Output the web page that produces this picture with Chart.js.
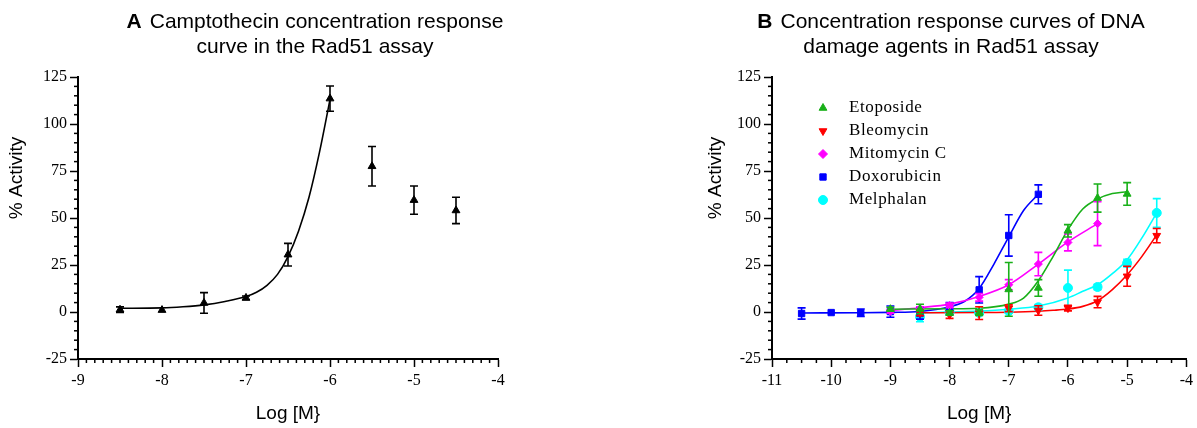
<!DOCTYPE html>
<html>
<head>
<meta charset="utf-8">
<script src="https://cdn.jsdelivr.net/npm/chart.js@4.4.1/dist/chart.umd.min.js"></script>
<style>
  html, body { margin: 0; padding: 0; background: #fff; }
  body { width: 1197px; height: 428px; position: relative; overflow: hidden; }
  .panel { position: absolute; top: 0; height: 428px; }
  #panelA { left: 0; width: 630px; }
  #panelB { left: 705px; width: 492px; }
</style>
</head>
<body>
<div class="panel" id="panelA"><canvas id="chartA"></canvas></div>
<div class="panel" id="panelB"><canvas id="chartB"></canvas></div>
<script>
// ---- panel A : camptothecin ----
const campDose = [-8.5, -8, -7.5, -7, -6.5, -6, -5.5, -5, -4.5];
const campAct = [1.2, 1.0, 4.8, 7.5, 30.5, 113.5, 77.5, 59.5, 54];
const campSem = [1.5, 0, 5.5, 1.0, 6, 6.7, 10.5, 7.5, 7];
const campFitDose = [-8.5, -8, -7.75, -7.5, -7.25, -7, -6.875, -6.75, -6.625, -6.5, -6.375, -6.25, -6.125, -6];
const campFitAct = [2.0, 2.2, 2.8, 3.8, 5.6, 8.2, 10.5, 14.2, 20, 29.5, 43, 61, 85, 113];

// ---- panel B : DNA damage agents ----
const etoDose = [-9, -8.5, -8, -7.5, -7, -6.5, -6, -5.5, -5];
const etoAct = [1.5, 1.6, -0.5, -0.3, 12, 12.8, 43.2, 60.6, 62.8];
const etoSem = [1, 2.5, 1.2, 1.5, 14.3, 4.4, 3.3, 7.5, 6];
const etoFitDose = [-9, -8, -7.5, -7, -6.75, -6.5, -6.25, -6, -5.75, -5.5, -5.25, -5];
const etoFitAct = [1.5, 1.7, 2.0, 4.2, 7.4, 16.6, 29.6, 43.8, 54.8, 60.1, 63.0, 64.0];

const bleoDose = [-8.5, -8, -7.5, -7, -6.5, -6, -5.5, -5, -4.5];
const bleoAct = [-0.5, -1.4, -0.6, 2.0, 0.8, 2.1, 5.3, 19, 40.6];
const bleoSem = [1.5, 2, 3.4, 1.8, 2.5, 1.5, 3, 5.3, 3.8];
const bleoFitDose = [-8.5, -7.5, -7, -6.5, -6.25, -6, -5.75, -5.5, -5.25, -5, -4.75, -4.5];
const bleoFitAct = [-0.4, -0.3, -0.1, 0.4, 0.9, 1.6, 3.0, 6.0, 11.9, 19.8, 29.6, 41];

const mitoDose = [-9, -8.5, -8, -7.5, -7, -6.5, -6, -5.5];
const mitoAct = [0.3, 1.8, 3.5, 7.8, 14.5, 25.5, 37, 47];
const mitoSem = [1, 1, 1.2, 2, 2.7, 6.2, 4.5, 11.7];
const mitoFitDose = [-9, -8.5, -8, -7.5, -7, -6.5, -6, -5.5];
const mitoFitAct = [0.8, 2.3, 4.2, 8.3, 14.5, 25.5, 37.3, 47];

const doxDose = [-10.5, -10, -9.5, -9, -8.5, -8, -7.5, -7, -6.5];
const doxAct = [-0.8, -0.3, -0.4, 0.2, -0.8, 3.0, 11.8, 40.7, 62.6];
const doxSem = [3, 0, 2, 3, 3, 2, 7, 11, 5];
const doxFitDose = [-10.5, -9.5, -9, -8.5, -8, -7.75, -7.5, -7.25, -7, -6.75, -6.5];
const doxFitAct = [-0.5, -0.4, -0.2, 0.3, 2.8, 5.6, 12.5, 25.5, 40, 54, 62.7];

const melDose = [-8.5, -8, -7.5, -7, -6.5, -6, -5.5, -5, -4.5];
const melAct = [-2.5, 0, -0.5, 0.5, 2.5, 12.8, 13.3, 26, 52.7];
const melSem = [2.7, 1, 1, 1, 1.5, 9.5, 1.5, 2, 7.6];
const melFitDose = [-8.5, -8, -7.5, -7, -6.5, -6, -5.75, -5.5, -5.25, -5, -4.75, -4.5];
const melFitAct = [-0.5, 0, 0.5, 1.5, 3.2, 7.5, 11, 14.5, 20.4, 27.8, 39.4, 52.7];

const pts = (xs, ys) => xs.map((x, i) => ({ x: x, y: ys[i] }));

// use the narrow sans for titles when it is installed
const probe = document.createElement('canvas').getContext('2d');
probe.font = '40px "Liberation Sans Narrow", monospace';
const wNarrow = probe.measureText('Camptothecin').width;
probe.font = '40px monospace';
const hasNarrow = Math.abs(wNarrow - probe.measureText('Camptothecin').width) > 1;
const titleFont = hasNarrow
  ? { bold: '700 24px "Liberation Sans Narrow"', reg: '24px "Liberation Sans Narrow"', axis: '22px "Liberation Sans Narrow"', spacing: '1px', axisSpacing: '0.5px' }
  : { bold: '700 21px "Liberation Sans", Arial', reg: '21px "Liberation Sans", Arial', axis: '19px "Liberation Sans", Arial', spacing: '0px', axisSpacing: '0px' };

// error bars, drawn right after each dataset
const errorBars = {
  id: 'errorBars',
  afterDatasetDraw(chart, args) {
    const ds = chart.data.datasets[args.index];
    if (!ds.errors) return;
    const y = chart.scales.y;
    const ctx = chart.ctx;
    ctx.save();
    ctx.strokeStyle = ds.borderColor;
    ctx.lineWidth = 1.6;
    args.meta.data.forEach((pt, i) => {
      const e = ds.errors[i];
      if (!e) return;
      const v = ds.data[i].y;
      const top = y.getPixelForValue(v + e);
      const bot = y.getPixelForValue(v - e);
      ctx.beginPath();
      ctx.moveTo(pt.x, top); ctx.lineTo(pt.x, bot);
      ctx.moveTo(pt.x - 4, top); ctx.lineTo(pt.x + 4, top);
      ctx.moveTo(pt.x - 4, bot); ctx.lineTo(pt.x + 4, bot);
      ctx.stroke();
    });
    ctx.restore();
  }
};

// short minor ticks between the labelled ones
const minorTicks = {
  id: 'minorTicks',
  afterDraw(chart, args, opts) {
    const ctx = chart.ctx, area = chart.chartArea;
    ctx.save();
    ctx.strokeStyle = '#000';
    ctx.lineWidth = 1.5;
    ['x', 'y'].forEach(id => {
      const s = chart.scales[id];
      const step = opts[id], major = s.options.ticks.stepSize;
      const n = Math.round((s.max - s.min) / step);
      for (let k = 0; k <= n; k++) {
        const v = s.min + k * step;
        if (Math.abs(v / major - Math.round(v / major)) < 1e-6) continue;
        const p = s.getPixelForValue(v);
        ctx.beginPath();
        if (id === 'x') { ctx.moveTo(p, area.bottom); ctx.lineTo(p, area.bottom + 4); }
        else { ctx.moveTo(area.left - 4, p); ctx.lineTo(area.left, p); }
        ctx.stroke();
      }
    });
    ctx.restore();
  }
};

// panel title with bold letter + axis titles
const panelText = {
  id: 'panelText',
  afterDraw(chart, args, o) {
    const ctx = chart.ctx, area = chart.chartArea, cx = chart.width / 2;
    ctx.save();
    ctx.fillStyle = '#000';
    ctx.textBaseline = 'middle';
    ctx.letterSpacing = titleFont.spacing;
    ctx.font = titleFont.bold;
    const wA = ctx.measureText(o.letter).width + 8;
    ctx.font = titleFont.reg;
    const w1 = ctx.measureText(o.title[0]).width;
    const x0 = cx - (wA + w1) / 2;
    ctx.textAlign = 'left';
    ctx.font = titleFont.bold;
    ctx.fillText(o.letter, x0, 22);
    ctx.font = titleFont.reg;
    ctx.fillText(o.title[0], x0 + wA, 22);
    ctx.textAlign = 'center';
    ctx.fillText(o.title[1], cx, 47);
    ctx.letterSpacing = titleFont.axisSpacing;
    ctx.font = titleFont.axis;
    ctx.fillText(o.xLabel, (area.left + area.right) / 2, 414);
    ctx.translate(o.yLabelX, 178);
    ctx.rotate(-Math.PI / 2);
    ctx.fillText(o.yLabel, 0, 0);
    ctx.restore();
  }
};

// legend placed inside the plot area
const innerLegend = {
  id: 'innerLegend',
  afterDraw(chart, args, o) {
    if (!o.show) return;
    const ctx = chart.ctx, area = chart.chartArea;
    ctx.save();
    ctx.font = '17px "Liberation Serif", "Times New Roman", serif';
    ctx.letterSpacing = '0.6px';
    ctx.textBaseline = 'middle';
    ctx.textAlign = 'left';
    chart.data.datasets.filter(d => d.legendRow !== undefined).forEach(d => {
      const x = area.left + o.left;
      const y = area.top + o.top + d.legendRow * o.rowGap;
      ctx.fillStyle = d.backgroundColor;
      ctx.strokeStyle = d.borderColor;
      ctx.lineWidth = 1;
      Chart.helpers.drawPoint(ctx, { pointStyle: d.pointStyle, rotation: d.rotation || 0, radius: 4.5, borderWidth: 1 }, x, y);
      ctx.fillStyle = '#000';
      ctx.fillText(d.label, x + 26, y);
    });
    ctx.restore();
  }
};

Chart.defaults.font.family = '"Liberation Serif", "Times New Roman", serif';
Chart.defaults.font.size = 16;
Chart.defaults.color = '#000';

function axes(xmin, xmax, yWidth) {
  const grid = { drawOnChartArea: false, drawTicks: true, tickLength: 8, tickColor: '#000', tickWidth: 1.5 };
  const border = { display: true, color: '#000', width: 2 };
  return {
    x: {
      type: 'linear', min: xmin, max: xmax,
      ticks: { stepSize: 1, padding: 4, maxRotation: 0, autoSkip: false },
      grid: grid, border: border,
      afterFit: s => { s.height = 30; }
    },
    y: {
      type: 'linear', min: -25, max: 125,
      ticks: { stepSize: 25, padding: 3 },
      grid: grid, border: border,
      afterFit: s => { s.width = yWidth; }
    }
  };
}

function curve(label, xs, ys, color) {
  return {
    label: label, data: pts(xs, ys), showLine: true, borderColor: color, borderWidth: 1.6,
    pointRadius: 0, cubicInterpolationMode: 'monotone', order: 2
  };
}

function points(label, xs, ys, errs, color, style, radius, row, rotation) {
  return {
    label: label, data: pts(xs, ys), errors: errs, showLine: false,
    backgroundColor: color, borderColor: color, borderWidth: 1,
    pointStyle: style, pointRadius: radius, rotation: rotation || 0, legendRow: row, order: 1
  };
}

new Chart(document.getElementById('chartA'), {
  type: 'scatter',
  data: {
    datasets: [
      curve('Camptothecin fit', campFitDose, campFitAct, '#000'),
      points('Camptothecin', campDose, campAct, campSem, '#000', 'triangle', 4.5)
    ]
  },
  options: {
    responsive: true, maintainAspectRatio: false, animation: false,
    layout: { padding: { top: 77, right: 132, bottom: 39, left: 0 } },
    scales: axes(-9, -4, 78),
    plugins: {
      legend: { display: false }, tooltip: { enabled: false },
      minorTicks: { x: 0.1, y: 5 },
      innerLegend: { show: false },
      panelText: {
        letter: 'A', title: ['Camptothecin concentration response', 'curve in the Rad51 assay'],
        xLabel: 'Log [M}', yLabel: '% Activity', yLabelX: 17
      }
    }
  },
  plugins: [errorBars, minorTicks, panelText, innerLegend]
});

new Chart(document.getElementById('chartB'), {
  type: 'scatter',
  data: {
    datasets: [
      curve('Etoposide fit', etoFitDose, etoFitAct, '#19b019'),
      curve('Bleomycin fit', bleoFitDose, bleoFitAct, '#ff0000'),
      curve('Mitomycin C fit', mitoFitDose, mitoFitAct, '#ff00ff'),
      curve('Doxorubicin fit', doxFitDose, doxFitAct, '#0000ff'),
      curve('Melphalan fit', melFitDose, melFitAct, '#00ffff'),
      points('Etoposide', etoDose, etoAct, etoSem, '#19b019', 'triangle', 4.5, 0),
      points('Bleomycin', bleoDose, bleoAct, bleoSem, '#ff0000', 'triangle', 4.5, 1, 180),
      points('Mitomycin C', mitoDose, mitoAct, mitoSem, '#ff00ff', 'rectRot', 4, 2),
      points('Doxorubicin', doxDose, doxAct, doxSem, '#0000ff', 'rect', 4.5, 3),
      points('Melphalan', melDose, melAct, melSem, '#00ffff', 'circle', 4.5, 4)
    ]
  },
  options: {
    responsive: true, maintainAspectRatio: false, animation: false,
    layout: { padding: { top: 77, right: 5, bottom: 39, left: 0 } },
    scales: axes(-11, -4, 67),
    plugins: {
      legend: { display: false }, tooltip: { enabled: false },
      minorTicks: { x: 0.25, y: 5 },
      innerLegend: { show: true, left: 51, top: 31, rowGap: 23 },
      panelText: {
        letter: 'B', title: ['Concentration response curves of DNA', 'damage agents in Rad51 assay'],
        xLabel: 'Log [M}', yLabel: '% Activity', yLabelX: 11
      }
    }
  },
  plugins: [errorBars, minorTicks, panelText, innerLegend]
});
</script>
</body>
</html>
